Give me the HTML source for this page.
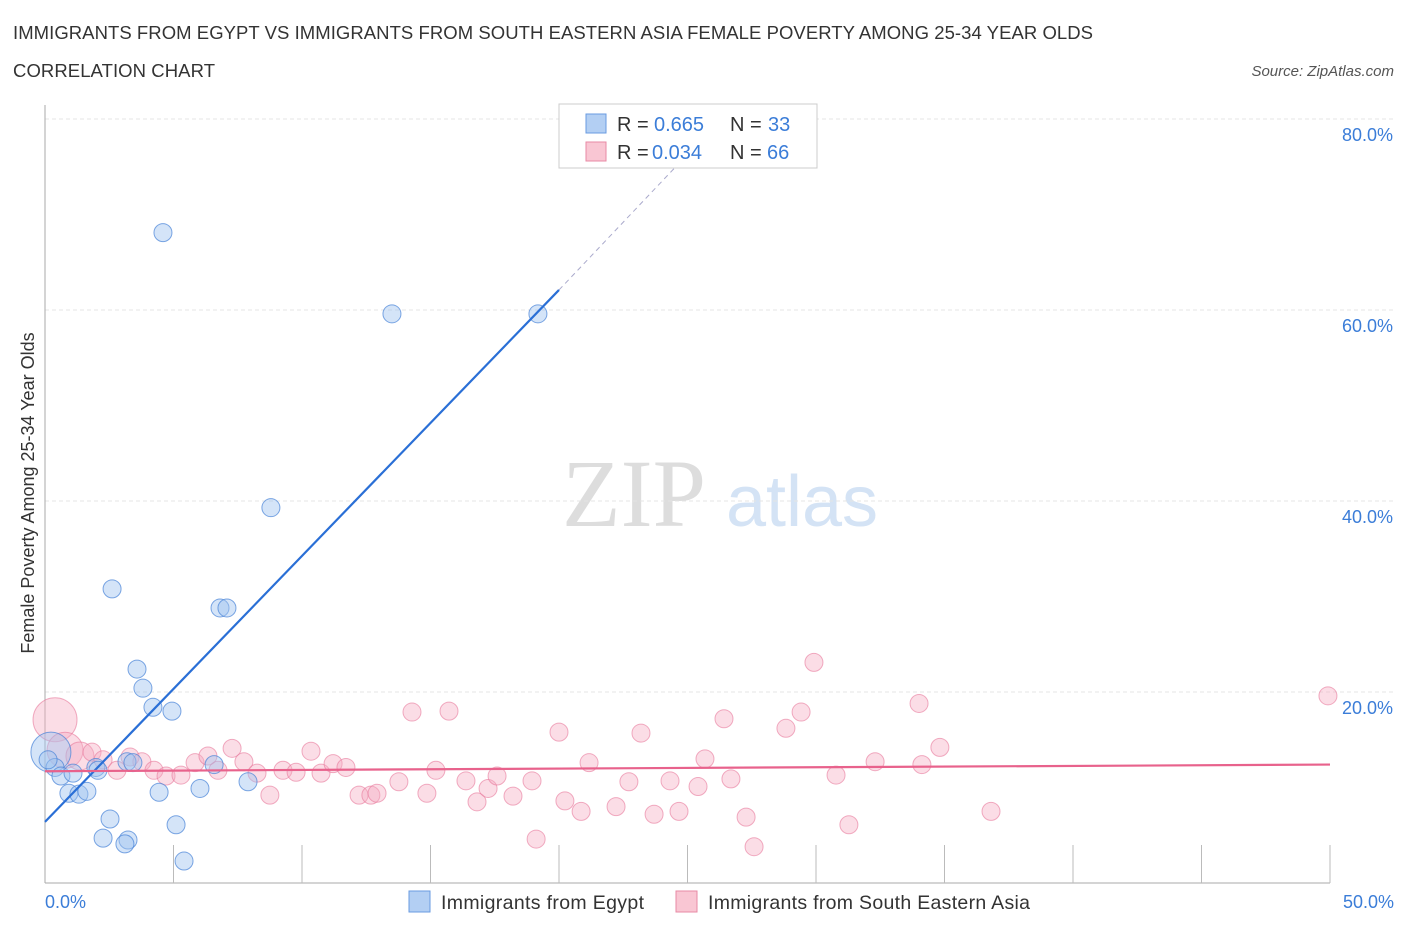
<!DOCTYPE html>
<html><head><meta charset="utf-8"><style>
body{margin:0;background:#fff;font-family:"Liberation Sans",sans-serif;}
#wrap{position:relative;width:1406px;height:930px;overflow:hidden;}
</style></head><body><div id="wrap">
<svg id="svg" width="1406" height="930" xmlns="http://www.w3.org/2000/svg">
<text x="13" y="39" font-size="18.5" fill="#333" textLength="1080">IMMIGRANTS FROM EGYPT VS IMMIGRANTS FROM SOUTH EASTERN ASIA FEMALE POVERTY AMONG 25-34 YEAR OLDS</text>
<text x="13" y="77" font-size="18.5" fill="#333" textLength="202">CORRELATION CHART</text>
<text x="1394" y="76" font-size="15" fill="#555" font-style="italic" text-anchor="end">Source: ZipAtlas.com</text>
<g><text x="634" y="526" font-size="96" fill="#ddd" font-family="Liberation Serif,serif" text-anchor="middle">ZIP</text><text x="802" y="526" font-size="72" fill="#d4e3f5" text-anchor="middle">atlas</text></g>
<g id="grid"></g><g id="marks"></g><g id="lines"></g>
<text transform="translate(34,493) rotate(-90)" font-size="18" fill="#333" text-anchor="middle">Female Poverty Among 25-34 Year Olds</text>
<g>
<rect x="559" y="104" width="258" height="64" fill="#fff" stroke="#ccc"/>
<rect x="586" y="114" width="20" height="19" fill="#b3cff3" stroke="#6a9be0"/>
<rect x="586" y="142" width="20" height="19" fill="#f9c6d3" stroke="#e88aa5"/>
<g font-size="20" fill="#333">
<text x="617" y="131">R =</text><text x="654" y="131" fill="#3b7dd8">0.665</text><text x="730" y="131">N =</text><text x="768" y="131" fill="#3b7dd8">33</text>
<text x="617" y="159">R =</text><text x="652" y="159" fill="#3b7dd8">0.034</text><text x="730" y="159">N =</text><text x="767" y="159" fill="#3b7dd8">66</text>
</g>
</g>
<g>
<rect x="409" y="891" width="21" height="21" fill="#b3cff3" stroke="#6a9be0"/>
<text x="441" y="909" font-size="19.5" fill="#333" textLength="203">Immigrants from Egypt</text>
<rect x="676" y="891" width="21" height="21" fill="#f9c6d3" stroke="#e88aa5"/>
<text x="708" y="909" font-size="19.5" fill="#333" textLength="322">Immigrants from South Eastern Asia</text>
</g>
</svg></div>
<script>
const yTicks=[20,40,60,80];
const blueX=[4.59,13.50,19.18,8.79,2.61,6.81,7.08,3.58,3.81,4.20,4.94,0.23,0.39,0.62,1.09,1.98,2.06,3.19,3.42,6.58,0.93,1.32,1.63,4.44,6.03,7.90,2.53,2.26,3.23,3.11,5.10,5.41,0.12];
const blueY=[68.1,59.6,59.6,39.3,30.8,28.8,28.8,22.4,20.4,18.4,18.0,13.7,12.1,11.2,11.5,12.1,11.8,12.7,12.6,12.4,9.4,9.3,9.6,9.5,9.9,10.6,6.7,4.7,4.5,4.1,6.1,2.3,12.9];
const pinkX=[0.39,0.78,1.36,1.83,2.26,2.80,3.31,3.77,4.24,4.71,5.29,5.84,6.34,6.73,7.28,7.74,8.25,8.75,9.26,9.77,10.35,10.74,11.21,11.71,12.22,12.68,12.92,13.77,14.28,14.86,15.21,15.72,16.38,16.81,17.24,17.59,18.21,18.95,19.11,20.00,20.23,20.86,21.17,22.22,22.72,23.19,23.70,24.32,24.67,25.41,25.68,26.42,26.69,27.28,27.59,28.83,29.42,29.92,30.78,31.28,32.30,34.01,34.12,34.82,36.81,49.92];
const pinkY=[17.1,13.9,13.3,13.7,12.9,11.8,13.2,12.7,11.8,11.2,11.3,12.6,13.3,11.8,14.1,12.7,11.5,9.2,11.8,11.6,13.8,11.5,12.5,12.1,9.2,9.2,9.4,10.6,17.9,9.4,11.8,18.0,10.7,8.5,9.9,11.2,9.1,10.7,4.6,15.8,8.6,7.5,12.6,8.0,10.6,15.7,7.2,10.7,7.5,10.1,13.0,17.2,10.9,6.9,3.8,16.2,17.9,23.1,11.3,6.1,12.7,18.8,12.4,14.2,7.5,19.6];
const blueFit=[0,6.4,20,62.1,25.6,78];
const pinkFit=[0,11.7,50,12.4];
const NS="http://www.w3.org/2000/svg";
const X=v=>45+v*25.7, Y=v=>883-v*9.55;
function mk(t,a,p){const e=document.createElementNS(NS,t);for(const k in a)e.setAttribute(k,a[k]);p.appendChild(e);return e;}
const grid=document.getElementById('grid'),marks=document.getElementById('marks'),lines=document.getElementById('lines');
yTicks.forEach(t=>{
 const l=mk('line',{x1:45,x2:1394,y1:Y(t),y2:Y(t),stroke:'#e4e4e4','stroke-dasharray':'4,3'},grid);
 
 
 const tx=mk('text',{x:1393,y:Y(t)+22,'font-size':18,fill:'#3b7dd8','text-anchor':'end'},grid);
 tx.textContent=t.toFixed(1)+'%';
 
 
});
const ax=mk('line',{x1:45,x2:45,y1:105,y2:883,stroke:'#aaa'},grid);


const bx=mk('line',{x1:45,x2:1330,y1:883,y2:883,stroke:'#aaa'},grid);


for(let i=1;i<=10;i++){const tk=mk('line',{x1:X(i*5),x2:X(i*5),y1:845,y2:883,stroke:'#bbb'},grid);
 
 }
[[0,'0.0%','start',45],[50,'50.0%','end',1394]].forEach(d=>{const t=mk('text',{x:d[3],y:908,'font-size':18,fill:'#3b7dd8','text-anchor':d[2]},grid);t.textContent=d[1];
 
 });
pinkX.forEach((v,i)=>{const r=i==0?22:(i==1?18:(i==2?14:9));const c=mk('circle',{cx:X(v),cy:Y(pinkY[i]),r:r,fill:'rgba(246,170,192,0.4)',stroke:'rgba(232,120,155,0.6)','stroke-width':1},marks);
 
 });
blueX.forEach((v,i)=>{const r=i==11?20:9;const c=mk('circle',{cx:X(v),cy:Y(blueY[i]),r:r,fill:'rgba(160,196,240,0.45)',stroke:'rgba(70,130,215,0.7)','stroke-width':1},marks);
 
 });
const b1=mk('line',{x1:X(blueFit[0]),y1:Y(blueFit[1]),x2:X(blueFit[2]),y2:Y(blueFit[3]),stroke:'#2a6fd6','stroke-width':2.2},lines);


const b2=mk('line',{x1:X(blueFit[2]),y1:Y(blueFit[3]),x2:X(blueFit[4]),y2:Y(blueFit[5]),stroke:'#aac',"stroke-dasharray":"5,4",'stroke-width':1},lines);


const p1=mk('line',{x1:X(pinkFit[0]),y1:Y(pinkFit[1]),x2:X(pinkFit[2]),y2:Y(pinkFit[3]),stroke:'#e8628c','stroke-width':2.2},lines);


</script></body></html>
